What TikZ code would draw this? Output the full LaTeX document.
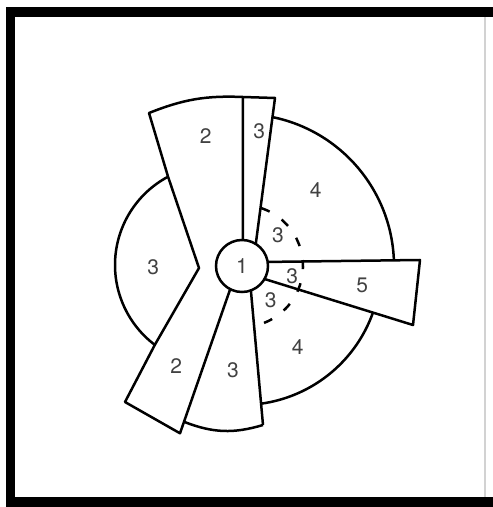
\documentclass[tikz,border=0pt]{standalone}
\usepackage{fontspec}
\setmainfont{TeX Gyre Heros}
\usepackage{tikz}
\definecolor{labelgray}{RGB}{65,65,65}

\begin{document}
\begin{tikzpicture}[
  x=1pt,
  y=1pt,
  zoneline/.style={draw=black, line width=2.5pt, line join=round},
  dashedring/.style={draw=black, line width=2.5pt, dash pattern=on 9pt off 14.4pt},
  hubnode/.style={circle, draw=black, line width=2.5pt, fill=white, minimum size=52pt,
    inner sep=0pt, outer sep=0pt, text=labelgray, font=\fontsize{21}{21}\selectfont},
  zonelabel/.style={text=labelgray, inner sep=0pt, font=\fontsize{21}{21}\selectfont}
]
  \useasboundingbox (0,0) rectangle (493,507);
  % frame
  \fill[black] (6,0) rectangle (15,500);
  \fill[black] (6,490) rectangle (493,500);
  \fill[black] (6,0) rectangle (493,10);
  \draw[gray!35, line width=1.5pt] (485,10) -- (485,490);

  \node[hubnode] (hub) at (242,241) {1};

  % outline of the two 2-zones and the narrow 3-zone
  \draw[zoneline] (hub.-117) -- (180,73.7) -- (125,105) -- (154.8,162.1) -- (199,239)
    -- (168.05,330.3) -- (149,394) to[bend left=12] (242.9,410) -- (275,409) -- (hub.58);
  \draw[zoneline] (242.9,410) -- (hub.88);
  % left 3-zone
  \draw[zoneline] (215,242) ++(118:100) arc[start angle=118, end angle=233, radius=100];
  % upper 4-zone
  \draw[zoneline] (hub.center) ++(78.4:152) arc[start angle=78.4, end angle=2.1, radius=152];
  % 5-zone
  \draw[zoneline] (hub.9) -- (420,247) -- (413,182) -- (hub.-30);
  % lower 4-zone
  \draw[zoneline] (hub.center) ++(-19.6:139) arc[start angle=-19.6, end angle=-82.1, radius=139];
  % lower 3-zone
  \draw[zoneline] (hub.-70) -- (263,82);
  \draw[zoneline] (184,85.2) to[bend right=19] (263,82);
  % dashed 3-ring
  \draw[dashedring] (hub.center) ++(71.5:61) arc[start angle=71.5, end angle=-69.5, radius=61];

  \foreach \pos/\txt/\nm in {
    {(205.8,370.7)}/2/twotop, {(259.3,375.3)}/3/threetop, {(315.7,317)}/4/fourtop,
    {(153.3,239.7)}/3/threeleft, {(278,271.3)}/3/ringtop, {(292.3,231)}/3/ringmid,
    {(362.3,221.3)}/5/five, {(270.7,206.3)}/3/ringlow, {(297.7,159.7)}/4/fourlow,
    {(233,136.3)}/3/threelow, {(176.3,141.3)}/2/twolow} {
    \node[zonelabel] (\nm) at \pos {\txt};
  }
\end{tikzpicture}
\end{document}
